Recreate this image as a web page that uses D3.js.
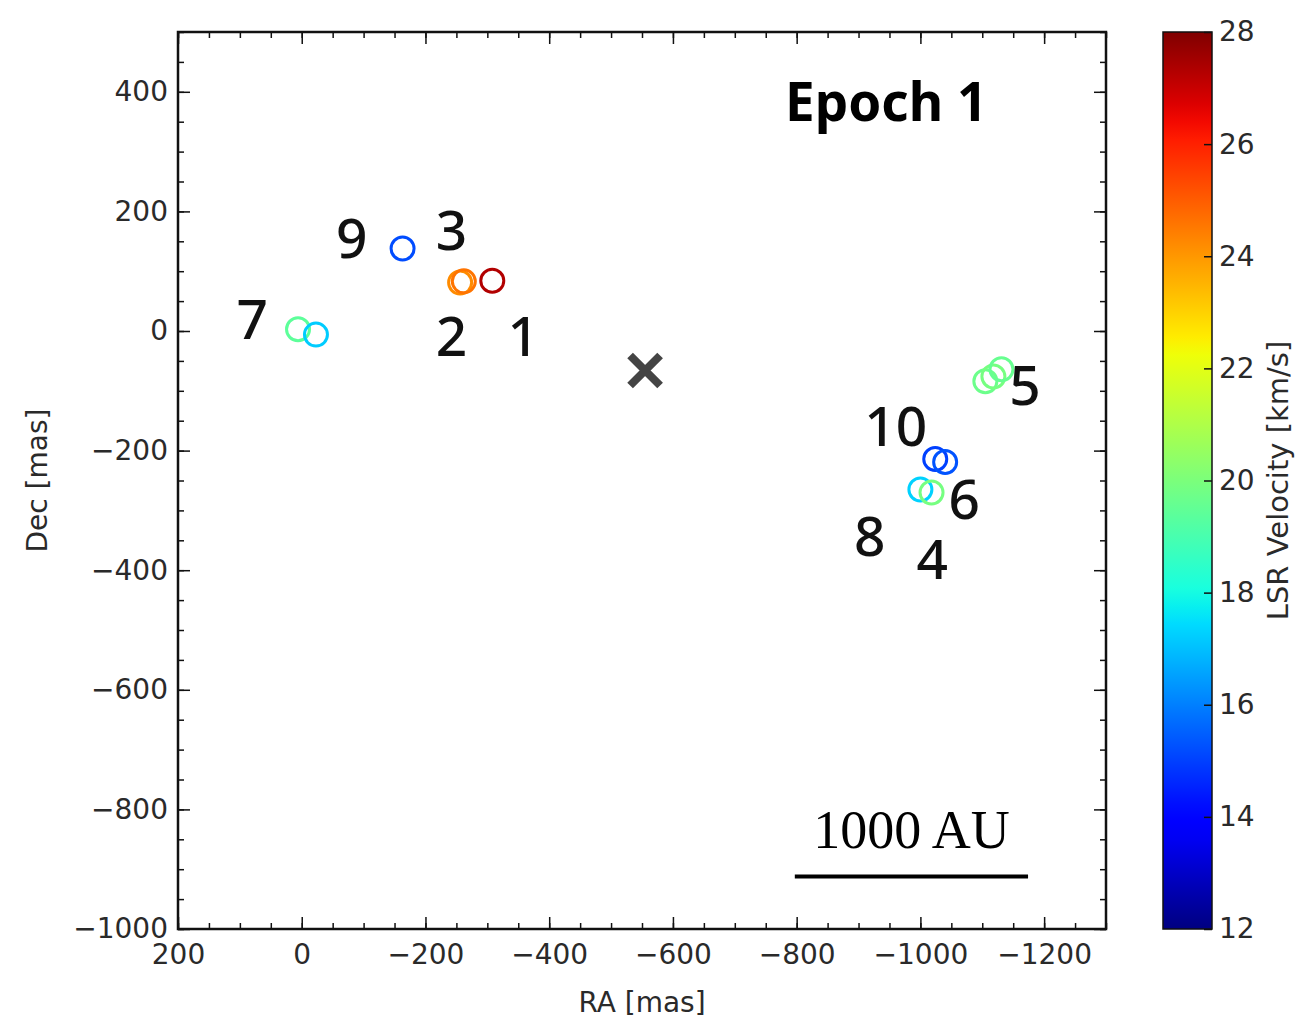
<!DOCTYPE html>
<html>
<head>
<meta charset="utf-8">
<script src="https://cdn.jsdelivr.net/npm/d3@7"></script>
<style>
  body { margin: 0; background: #fff; }
  text { font-family: "DejaVu Sans", sans-serif; }
</style>
</head>
<body>
<svg id="chart" width="1298" height="1019"></svg>
<script>
(function() {

  // maser spots: RA [mas], Dec [mas], LSR velocity [km/s]
  var spotRA  = [-308, -256, -262, -163,  6, -23, -1105, -1118, -1131, -1024, -1040, -1000, -1018];
  var spotDec = [  84,   81,   83,  138,  3,  -6,   -84,   -76,   -64,  -214,  -219,  -265,  -270];
  var spotVel = [27.3, 24.2, 24.6, 15.2, 19.4, 17.2, 19.7, 19.9, 19.6, 15.0, 15.3, 17.3, 19.9];

  // feature numbers and where they are written (data coords)
  var labelText = ["1", "2", "3", "4", "5", "6", "7", "8", "9", "10"];
  var labelRA   = [-358, -242, -242, -1019, -1169, -1071, 80, -918, -81, -960];
  var labelDec  = [  -8,   -9,  169,  -381,   -91,  -281, 19, -343, 156, -159];

  // central star position
  var starRA = -555, starDec = -66;

  // 1000 AU scale bar
  var barRA = [-797, -1174], barDec = -912;

  var xTicks = [200, 0, -200, -400, -600, -800, -1000, -1200];
  var yTicks = [400, 200, 0, -200, -400, -600, -800, -1000];
  var cTicks = [12, 14, 16, 18, 20, 22, 24, 26, 28];

  var svg = d3.select("#chart");

  var left = 178, right = 1106, top = 32, bottom = 929;

  var x = d3.scaleLinear().domain([200, -1300]).range([left, right]);
  var y = d3.scaleLinear().domain([-1000, 500]).range([bottom, top]);
  var fmt = d3.format("d");

  // matplotlib "jet"
  var jr = d3.scaleLinear().domain([0, 0.35, 0.66, 0.89, 1]).range([0, 0, 1, 1, 0.5]).clamp(true);
  var jg = d3.scaleLinear().domain([0, 0.125, 0.375, 0.64, 0.91, 1]).range([0, 0, 1, 1, 0, 0]).clamp(true);
  var jb = d3.scaleLinear().domain([0, 0.11, 0.34, 0.65, 1]).range([0.5, 1, 1, 0, 0]).clamp(true);
  function jet(t) {
    return d3.rgb(jr(t) * 255, jg(t) * 255, jb(t) * 255).toString();
  }
  var vNorm = d3.scaleLinear().domain([12, 28]).range([0, 1]);
  var color = function(v) { return jet(vNorm(v)); };

  // ---- axes (ticks point inward, matplotlib style)
  var minorX = d3.range(200, -1301, -50);
  var minorY = d3.range(-1000, 501, 50);

  function styleAxis(g) {
    g.select(".domain").remove();
    g.selectAll("line").attr("stroke", "#111").attr("stroke-width", 1.5);
    g.selectAll("text").attr("fill", "#2a2a2a").style("font-size", "28px");
  }

  svg.append("g").attr("transform", "translate(0," + bottom + ")")
    .call(d3.axisBottom(x).tickValues(minorX).tickSize(-6).tickFormat(""))
    .call(styleAxis);
  svg.append("g").attr("transform", "translate(0," + bottom + ")")
    .call(d3.axisBottom(x).tickValues(xTicks).tickSize(-12).tickPadding(15).tickFormat(fmt))
    .call(styleAxis);
  svg.append("g").attr("transform", "translate(0," + top + ")")
    .call(d3.axisTop(x).tickValues(minorX).tickSize(-6).tickFormat(""))
    .call(styleAxis);
  svg.append("g").attr("transform", "translate(0," + top + ")")
    .call(d3.axisTop(x).tickValues(xTicks).tickSize(-12).tickFormat(""))
    .call(styleAxis);

  svg.append("g").attr("transform", "translate(" + left + ",0)")
    .call(d3.axisLeft(y).tickValues(minorY).tickSize(-6).tickFormat(""))
    .call(styleAxis);
  svg.append("g").attr("transform", "translate(" + left + ",0)")
    .call(d3.axisLeft(y).tickValues(yTicks).tickSize(-12).tickPadding(10).tickFormat(fmt))
    .call(styleAxis);
  svg.append("g").attr("transform", "translate(" + right + ",0)")
    .call(d3.axisRight(y).tickValues(minorY).tickSize(-6).tickFormat(""))
    .call(styleAxis);
  svg.append("g").attr("transform", "translate(" + right + ",0)")
    .call(d3.axisRight(y).tickValues(yTicks).tickSize(-12).tickFormat(""))
    .call(styleAxis);

  svg.append("rect")
    .attr("x", left).attr("y", top)
    .attr("width", right - left).attr("height", bottom - top)
    .attr("fill", "none").attr("stroke", "#111").attr("stroke-width", 2.5);

  svg.append("text")
    .attr("x", (left + right) / 2).attr("y", 1012)
    .attr("text-anchor", "middle")
    .attr("fill", "#2a2a2a")
    .style("font-size", "28px")
    .text("RA [mas]");

  svg.append("text")
    .attr("transform", "translate(47," + ((top + bottom) / 2) + ") rotate(-90)")
    .attr("text-anchor", "middle")
    .attr("fill", "#2a2a2a")
    .style("font-size", "28px")
    .text("Dec [mas]");

  // ---- maser spots
  var spots = spotRA.map(function(ra, i) {
    return {ra : ra, dec : spotDec[i], v : spotVel[i]};
  });

  svg.append("g").selectAll("circle")
    .data(spots)
    .enter().append("circle")
    .attr("cx", d => x(d.ra))
    .attr("cy", d => y(d.dec))
    .attr("r", 11.5)
    .attr("fill", "none")
    .attr("stroke", d => color(d.v))
    .attr("stroke-width", 3);

  // star
  var s = 15;
  svg.append("path")
    .attr("transform", "translate(" + x(starRA) + "," + y(starDec) + ")")
    .attr("d", "M" + (-s) + "," + (-s) + "L" + s + "," + s + "M" + (-s) + "," + s + "L" + s + "," + (-s))
    .attr("stroke", "#444")
    .attr("stroke-width", 8);

  // feature numbers
  svg.append("g").selectAll("text")
    .data(labelText)
    .enter().append("text")
    .attr("x", (d, i) => x(labelRA[i]))
    .attr("y", (d, i) => y(labelDec[i]))
    .attr("text-anchor", "middle")
    .attr("dy", "0.36em")
    .attr("fill", "#111")
    .style("font-family", "'Noto Sans', sans-serif")
    .style("font-weight", 500)
    .style("font-size", "55px")
    .text(d => d);

  svg.append("text")
    .attr("x", 785).attr("y", 121)
    .attr("fill", "#000")
    .style("font-family", "'Noto Sans', sans-serif")
    .style("font-weight", "bold")
    .style("font-size", "53px")
    .text("Epoch 1");

  // scale bar
  svg.append("line")
    .attr("x1", x(barRA[0])).attr("x2", x(barRA[1]))
    .attr("y1", y(barDec)).attr("y2", y(barDec))
    .attr("stroke", "#000").attr("stroke-width", 4);
  svg.append("text")
    .attr("x", (x(barRA[0]) + x(barRA[1])) / 2)
    .attr("y", 848)
    .attr("text-anchor", "middle")
    .attr("fill", "#000")
    .style("font-family", "'Liberation Serif', serif")
    .style("font-size", "54px")
    .text("1000 AU");

  // ---- colorbar
  var cbX = 1163, cbW = 49;
  var c = d3.scaleLinear().domain([12, 28]).range([bottom, top]);

  var grad = svg.append("defs").append("linearGradient")
    .attr("id", "jet")
    .attr("x1", 0).attr("y1", 1).attr("x2", 0).attr("y2", 0);
  grad.selectAll("stop")
    .data(d3.range(0, 1.0001, 0.02))
    .enter().append("stop")
    .attr("offset", d => d)
    .attr("stop-color", d => jet(d));

  svg.append("rect")
    .attr("x", cbX).attr("y", top)
    .attr("width", cbW).attr("height", bottom - top)
    .attr("fill", "url(#jet)")
    .attr("stroke", "#111").attr("stroke-width", 1.5);

  svg.append("g").attr("transform", "translate(" + (cbX + cbW) + ",0)")
    .call(d3.axisRight(c).tickValues(cTicks).tickSize(-8).tickPadding(7))
    .call(styleAxis);

  svg.append("text")
    .attr("transform", "translate(1288," + ((top + bottom) / 2) + ") rotate(-90)")
    .attr("text-anchor", "middle")
    .attr("fill", "#2a2a2a")
    .style("font-size", "29px")
    .text("LSR Velocity [km/s]");

})();
</script>
</body>
</html>
